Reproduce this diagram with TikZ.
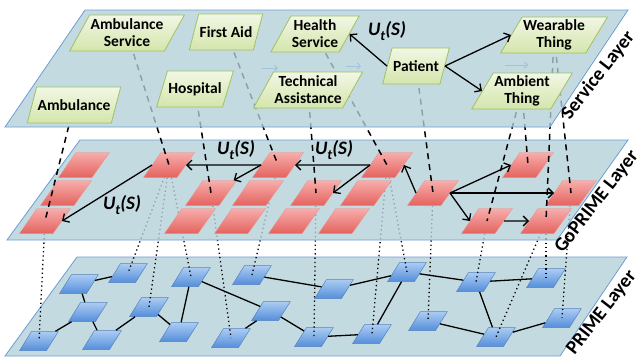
\documentclass[tikz,border=0pt]{standalone}
\usepackage{fontspec}
\setmainfont{Carlito}
\usetikzlibrary{shapes.geometric,arrows.meta,positioning}

\definecolor{planefill}{RGB}{180,208,216}
\definecolor{planeline}{RGB}{108,157,212}
\definecolor{svctop}{RGB}{241,247,228}
\definecolor{svcbot}{RGB}{212,229,172}
\definecolor{svcline}{RGB}{160,192,98}
\definecolor{gotop}{RGB}{247,174,172}
\definecolor{gobot}{RGB}{228,98,94}
\definecolor{primetop}{RGB}{172,204,243}
\definecolor{primebot}{RGB}{84,142,218}
\definecolor{primeline}{RGB}{86,132,192}
\definecolor{ghostblue}{RGB}{90,160,222}

\pgfdeclarelayer{primeplane}
\pgfdeclarelayer{dots}
\pgfdeclarelayer{goplane}
\pgfdeclarelayer{dashes}
\pgfdeclarelayer{svcplane}
\pgfsetlayers{primeplane,dots,goplane,dashes,svcplane,main}

\newcommand{\utlabel}{U\raisebox{-0.28em}{\fontsize{14}{14}\selectfont t}(S)}

\tikzset{
    plane/.style={
        draw=planeline,
        fill=planefill,
        fill opacity=0.78,
        line width=0.8pt
    },
    svcbox/.style={
        trapezium,
        trapezium left angle=58,
        trapezium right angle=122,
        trapezium stretches body,
        draw=svcline,
        line width=0.8pt,
        top color=svctop,
        bottom color=svcbot,
        inner xsep=1pt,
        inner ysep=2pt,
        minimum height=36pt,
        align=center,
        font=\fontsize{15.5}{17}\selectfont\bfseries
    },
    gobox/.style={
        trapezium,
        trapezium left angle=55,
        trapezium right angle=125,
        draw=gobot!70,
        line width=0.4pt,
        top color=gotop,
        bottom color=gobot,
        inner xsep=8pt,
        inner ysep=0pt,
        text height=25pt,
        text depth=0pt
    },
    primebox/.style={
        trapezium,
        trapezium left angle=58,
        trapezium right angle=122,
        draw=primeline,
        line width=0.5pt,
        top color=primetop,
        bottom color=primebot,
        inner xsep=7.5pt,
        inner ysep=0pt,
        text height=19pt,
        text depth=0pt
    },
    flow/.style={-{Straight Barb[length=5pt,width=10pt]}, line width=1.3pt},
    link/.style={line width=1.3pt},
    maps/.style={dash pattern=on 6pt off 5pt, line width=1.5pt},
    runs/.style={dash pattern=on 1.3pt off 3pt, line width=1.3pt},
    ghost/.style={-{Straight Barb[length=3pt,width=6pt]}, draw=ghostblue, line width=1pt},
    ut/.style={font=\fontsize{19}{19}\selectfont\bfseries\itshape},
    layername/.style={anchor=north, rotate=52, font=\fontsize{19.5}{20}\selectfont\bfseries}
}

\begin{document}
\begin{tikzpicture}[x=1pt,y=-1pt]
  \useasboundingbox (0,0) rectangle (642,360);

  % PRIME layer
  \begin{pgfonlayer}{primeplane}
    \draw[plane] (5,356) -- (560,356) -- (627,257) -- (77,257) -- cycle;
    \node[primebox] (p1) at (79,284) {};
    \node[primebox] (p2) at (128,273) {};
    \node[primebox] (p3) at (88,312) {};
    \node[primebox] (p4) at (149,307) {};
    \node[primebox] (p5) at (39,341) {};
    \node[primebox] (p6) at (102,340) {};
    \node[primebox] (p7) at (191,277) {};
    \node[primebox] (p8) at (179,332) {};
    \node[primebox] (p9) at (252,275) {};
    \node[primebox] (p10) at (334,289) {};
    \node[primebox] (p11) at (407,272) {};
    \node[primebox] (p12) at (271,311) {};
    \node[primebox] (p13) at (231,338) {};
    \node[primebox] (p14) at (314,337) {};
    \node[primebox] (p15) at (372,334) {};
    \node[primebox] (p16) at (428,321) {};
    \node[primebox] (p17) at (476,282) {};
    \node[primebox] (p18) at (546,278) {};
    \node[primebox] (p19) at (496,337) {};
    \node[primebox] (p20) at (562,318) {};
    \draw[link] (p1) -- (p2);
    \draw[link] (p1) -- (p3);
    \draw[link] (p3) -- (p5);
    \draw[link] (p3) -- (p6);
    \draw[link] (p6) -- (p4);
    \draw[link] (p4) -- (p8);
    \draw[link] (p7) -- (p8);
    \draw[link] (p7) -- (p12);
    \draw[link] (p12) -- (p13);
    \draw[link] (p12) -- (p14);
    \draw[link] (p9) -- (p10);
    \draw[link] (p10) -- (p11);
    \draw[link] (p14) -- (p15);
    \draw[link] (p15) -- (p11);
    \draw[link] (p11) -- (p17);
    \draw[link] (p17) -- (p18);
    \draw[link] (p17) -- (p19);
    \draw[link] (p16) -- (p19);
    \draw[link] (p19) -- (p20);
  \end{pgfonlayer}

  % GoPRIME layer
  \begin{pgfonlayer}{goplane}
    \draw[plane] (7,240) -- (557,240) -- (628,140) -- (80,140) -- cycle;
    \node[gobox] (g11) at (84,165) {};
    \node[gobox] (g12) at (169,165) {};
    \node[gobox] (g13) at (278,165) {};
    \node[gobox] (g14) at (387,165) {};
    \node[gobox] (g15) at (528,165) {};
    \node[gobox] (g21) at (66,193) {};
    \node[gobox] (g22) at (211,193) {};
    \node[gobox] (g23) at (258,193) {};
    \node[gobox] (g24) at (316,193) {};
    \node[gobox] (g25) at (366,193) {};
    \node[gobox] (g26) at (433,193) {};
    \node[gobox] (g27) at (571,193) {};
    \node[gobox] (g31) at (45,221) {};
    \node[gobox] (g32) at (190,221) {};
    \node[gobox] (g33) at (240,221) {};
    \node[gobox] (g34) at (294,221) {};
    \node[gobox] (g35) at (344,221) {};
    \node[gobox] (g36) at (487,221) {};
    \node[gobox] (g37) at (546,221) {};
    \draw[flow] (g13) -- (g12);
    \draw[flow] (g14) -- (g13);
    \draw[flow] (g12.west) -- (g31.east);
    \draw[flow] (g13.west) -- (g22);
    \draw[flow] (g14.west) -- (g24.east);
    \draw[flow] (g26.west) -- (g14.east);
    \draw[flow] (g26.east) -- (g15.west);
    \draw[flow] (g26.east) -- (g27.west);
    \draw[flow] (g26.east) -- (g36.west);
    \draw[flow] (g36) -- (g37);
    \node[ut] (ut2) at (236,150) {\utlabel};
    \node[ut] (ut3) at (334,150) {\utlabel};
    \node[ut] (ut4) at (122,205) {\utlabel};
  \end{pgfonlayer}

  % Service layer
  \begin{pgfonlayer}{svcplane}
    \draw[plane] (5,127) -- (550,127) -- (628,10) -- (85,10) -- cycle;
  \end{pgfonlayer}
  \node[svcbox] (ambsvc) at (127,33) {Ambulance\\Service};
  \node[svcbox] (firstaid) at (226,32) {First Aid};
  \node[svcbox] (health) at (315,34) {Health\\Service};
  \node[svcbox] (hosp) at (195,89) {Hospital};
  \node[svcbox] (techass) at (308,90) {Technical\\Assistance};
  \node[svcbox] (patient) at (416,66) {Patient};
  \node[svcbox] (wear) at (554,35) {Wearable\\Thing};
  \node[svcbox] (ambient) at (522,91) {Ambient\\Thing};
  \node[svcbox] (amb) at (74,105) {Ambulance};
  \draw[flow] (patient.west) -- (health.east);
  \draw[flow] (patient.east) -- (wear.west);
  \draw[flow] (patient.east) -- (ambient.west);
  \node[ut] (ut1) at (387,31) {\utlabel};

  % faint arrows left under the service plane
  \coordinate (gh1a) at (262,68);
  \coordinate (gh1b) at (278,68);
  \coordinate (gh2a) at (346,66);
  \coordinate (gh2b) at (361,66);
  \coordinate (gh3a) at (505,65);
  \coordinate (gh3b) at (528,65);

  % mappings between the layers
  \begin{pgfonlayer}{dashes}
    \draw[ghost] (gh1a) -- (gh1b);
    \draw[ghost] (gh2a) -- (gh2b);
    \draw[ghost] (gh3a) -- (gh3b);
    \draw[maps] (amb.center) -- (g31.center);
    \draw[maps] (ambsvc.center) -- (g12.center);
    \draw[maps] (hosp.center) -- (g22.center);
    \draw[maps] (firstaid.center) -- (g13.center);
    \draw[maps] (techass.center) -- (g24.center);
    \draw[maps] (health.center) -- (g14.center);
    \draw[maps] (patient.center) -- (g26.center);
    \draw[maps] (ambient.center) -- (g36.center);
    \draw[maps] (ambient.center) -- (g15.center);
    \draw[maps] (wear.center) -- (g37.center);
    \draw[maps] (wear.center) -- (g27.center);
  \end{pgfonlayer}

  \begin{pgfonlayer}{dots}
    \draw[runs] (g31.center) -- (p5.center);
    \draw[runs] (g12.center) -- (p2.center);
    \draw[runs] (g12.center) -- (p4.center);
    \draw[runs] (g12.center) -- (p7.center);
    \draw[runs] (g22.center) -- (p13.center);
    \draw[runs] (g13.center) -- (p9.center);
    \draw[runs] (g24.center) -- (p14.center);
    \draw[runs] (g14.center) -- (p15.center);
    \draw[runs] (g14.center) -- (p11.center);
    \draw[runs] (g26.center) -- (p16.center);
    \draw[runs] (g36.center) -- (p17.center);
    \draw[runs] (g37.center) -- (p19.center);
    \draw[runs] (g37.center) -- (p18.center);
    \draw[runs] (g27.center) -- (p20.center);
  \end{pgfonlayer}

  % layer names
  \node[layername] (svcname) at (589,68) {Service Layer};
  \node[layername] (goname) at (588,195) {GoPRIME Layer};
  \node[layername] (primename) at (593,306) {PRIME Layer};

\end{tikzpicture}
\end{document}
